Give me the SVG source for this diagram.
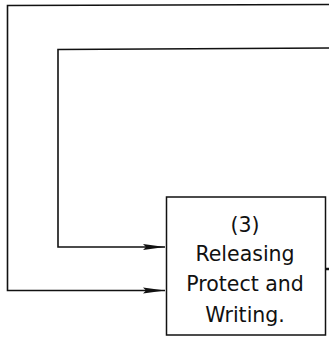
<svg xmlns="http://www.w3.org/2000/svg" width="329" height="338" viewBox="0 0 329 338">
<style>
.ln{fill:none;stroke:#111;stroke-width:1.6}
.box{fill:#fff;stroke:#111;stroke-width:1.5}
.t{font-family:"DejaVu Sans",sans-serif;font-size:20.5px;fill:#111;text-anchor:middle}
</style>
<defs>
<marker id="ah" markerWidth="24" markerHeight="9" refX="22" refY="4.5" orient="auto" markerUnits="userSpaceOnUse">
<path d="M0,1.5 L22,4.5 L0,7.5 L3,4.5 Z" fill="#111"/>
</marker>
</defs>
<rect width="329" height="338" fill="#fff"/>
<g id="connectors">
<path class="ln" d="M329,4.5 L7.5,5.5 L7.5,290.5 L165,290.5" marker-end="url(#ah)"/>
<path class="ln" d="M329,48 L58,49.5 L58,247 L165,247" marker-end="url(#ah)"/>
<path class="ln" d="M325.5,269 L329,269" style="stroke-width:2.5"/>
</g>
<g id="node3">
<rect class="box" x="166.5" y="197" width="159" height="138"/>
<text class="t" x="245" y="232">(3)</text>
<text class="t" x="245" y="261">Releasing</text>
<text class="t" x="245" y="291">Protect and</text>
<text class="t" x="245" y="322">Writing.</text>
</g>
</svg>
